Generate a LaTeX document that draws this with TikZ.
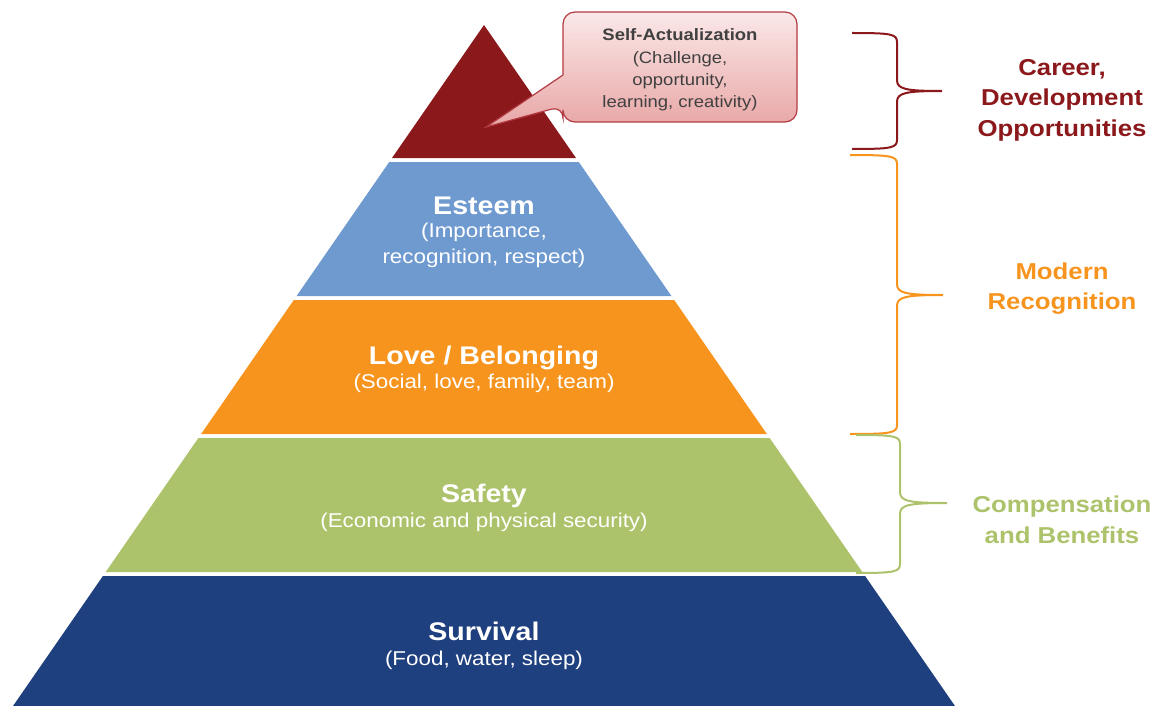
\documentclass[tikz,border=0pt]{standalone}
\usepackage{fontspec}
\setmainfont[FakeStretch=1.12]{Liberation Sans}
\usetikzlibrary{positioning}

\definecolor{topred}{RGB}{139,24,27}
\definecolor{esteemblue}{RGB}{111,154,208}
\definecolor{loveorange}{RGB}{247,148,30}
\definecolor{safetygreen}{RGB}{173,195,107}
\definecolor{survivalblue}{RGB}{31,64,126}
\definecolor{calloutline}{RGB}{178,58,66}
\definecolor{callouttop}{RGB}{251,232,232}
\definecolor{calloutbot}{RGB}{232,166,166}
\definecolor{callouttext}{RGB}{64,64,64}

\tikzset{
  layertitle/.style={inner sep=0pt, text=white, font=\fontsize{25.5}{30}\selectfont\bfseries},
  layersub/.style={inner sep=0pt, text=white, align=center, font=\fontsize{20}{26}\selectfont},
  sidelabel/.style={inner sep=0pt, align=center, font=\fontsize{23}{30.5}\selectfont\bfseries},
  callouttxt/.style={inner sep=0pt, align=center, text=callouttext, font=\fontsize{16.5}{22.3}\selectfont}
}

\begin{document}
\begin{tikzpicture}[x=1pt,y=-1pt]
  \useasboundingbox (0,0) rectangle (1156,706);

  % pyramid layers
  \foreach \ytop/\ybot/\col in {25/158/topred, 162/296/esteemblue, 300/434/loveorange, 438/572/safetygreen, 576/706/survivalblue}
    \fill[\col] ({484-0.6916*(\ytop-25)},\ytop) -- ({484+0.6916*(\ytop-25)},\ytop)
      -- ({484+0.6916*(\ybot-25)},\ybot) -- ({484-0.6916*(\ybot-25)},\ybot) -- cycle;

  \node[layertitle] (esteem) at (484,206) {Esteem};
  \node[layersub] (esteemsub) at (484,245) {(Importance,\\recognition, respect)};
  \node[layertitle] (love) at (484,358) {Love / Belonging};
  \node[layersub] (lovesub) at (484,383) {(Social, love, family, team)};
  \node[layertitle] (safety) at (484,496) {Safety};
  \node[layersub] (safetysub) at (484,522) {(Economic and physical security)};
  \node[layertitle] (survival) at (484,631.5) {Survival};
  \node[layersub] (survivalsub) at (484,660) {(Food, water, sleep)};

  % callout
  \draw[calloutline, line width=1.2pt, top color=callouttop, bottom color=calloutbot, rounded corners=12]
    (563,75) -- (563,12) -- (797,12) -- (797,122) -- (563,122) -- (563,106)
    [sharp corners] -- (486,127) -- cycle;
  \node[callouttxt] (selfact) at (680,70) {\textbf{Self-Actualization}\\(Challenge,\\opportunity,\\learning, creativity)};

  % braces
  \foreach \xo/\ytop/\ybot/\ymid/\xv/\xt/\col in {852/33/149/91/897/942/topred, 850/155/434/295/897/943/loveorange, 856/435/573/503/900/947/safetygreen}
    \draw[\col, line width=2pt]
      (\xo,\ytop) .. controls ({\xv-6},\ytop) and (\xv,{\ytop+1}) .. (\xv,{\ytop+9})
      -- (\xv,{\ymid-11}) .. controls (\xv,{\ymid-2}) and ({\xv+8},\ymid) .. (\xt,\ymid)
      .. controls ({\xv+8},\ymid) and (\xv,{\ymid+2}) .. (\xv,{\ymid+11})
      -- (\xv,{\ybot-9}) .. controls (\xv,{\ybot-1}) and ({\xv-6},\ybot) .. (\xo,\ybot);

  \node[sidelabel, text=topred] (career) at (1062,100) {Career,\\Development\\Opportunities};
  \node[sidelabel, text=loveorange] (modern) at (1062,288.5) {Modern\\Recognition};
  \node[sidelabel, text=safetygreen] (comp) at (1062,520) {Compensation\\and Benefits};
\end{tikzpicture}
\end{document}
